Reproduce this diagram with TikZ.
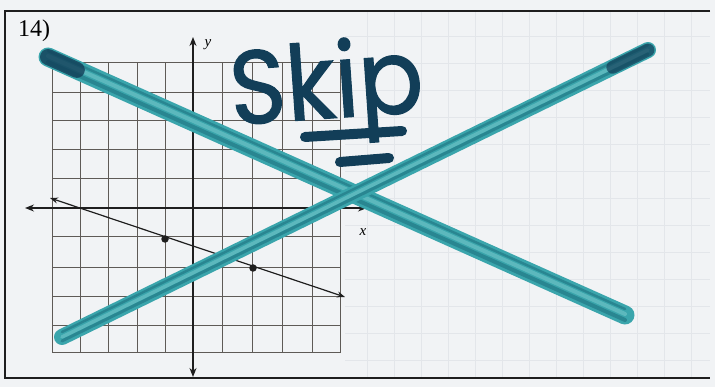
\documentclass[tikz,border=0pt]{standalone}
\usepackage{fontspec}
\setmainfont{Liberation Serif}
\newfontfamily\handfont{Poppins}[FakeBold=1.2]
\usetikzlibrary{arrows.meta,calc}
\definecolor{paper}{HTML}{F1F3F5}
\definecolor{faint}{HTML}{E3E6EA}
\definecolor{ink}{HTML}{1E1E1E}
\definecolor{gridc}{HTML}{5E5A56}
\definecolor{tealA}{HTML}{3AA5AC}
\definecolor{tealL}{HTML}{74C6C9}
\definecolor{tealD}{HTML}{1C6E7C}
\definecolor{navy}{HTML}{123E58}
\tikzset{
  frameline/.style={ink, line width=1.4pt},
  gridline/.style={gridc, line width=1.0pt},
  axisline/.style={ink, line width=1.3pt, {Stealth[length=9pt,width=7pt]}-{Stealth[length=9pt,width=7pt]}},
  graphline/.style={ink, line width=1.2pt, {Stealth[length=8pt,width=6pt]}-{Stealth[length=8pt,width=6pt]}},
  ptdot/.style={circle, fill=ink, inner sep=0pt, minimum size=7.5pt},
  marker/.style={tealA, line width=#1, line cap=round},
  markerdark/.style={tealD, line width=#1, line cap=round, opacity=0.55},
  markerlight/.style={tealL, line width=#1, line cap=round, opacity=0.6},
  pen/.style={navy, line width=10pt, line cap=round},
  lbl/.style={font=\itshape\fontsize{15}{15}\selectfont, inner sep=0pt}
}
\begin{document}
\begin{tikzpicture}[x=1pt, y=-1pt]
\useasboundingbox (0,0) rectangle (715,387);
\fill[paper] (0,0) rectangle (715,387);
% faint background paper grid
\foreach \gx in {367,394,...,710} \draw[faint, line width=0.6pt] (\gx,11) -- (\gx,378);
\foreach \gy in {36,63,...,378} \draw[faint, line width=0.6pt] (345,\gy) -- (710,\gy);
% frame
\coordinate (ftr) at (710,11);
\coordinate (ftl) at (5,11);
\coordinate (fbl) at (5,378);
\coordinate (fbr) at (710,378);
\draw[frameline] (ftr) -- (ftl) -- (fbl) -- (fbr);
% number
\node[anchor=base west, inner sep=0pt, font=\fontsize{24}{24}\selectfont] (num) at (18,37) {14)};
% grid
\foreach \gx in {52,80,108,137,165,193,222,252,282,312,340} \draw[gridline] (\gx,63) -- (\gx,353);
\foreach \gy in {63,93,121,150,179,208,237,268,297,326,353} \draw[gridline] (52,\gy) -- (340,\gy);
% axes
\coordinate (ytop) at (193,37);
\coordinate (ybot) at (193,377);
\coordinate (xl) at (25,208);
\coordinate (xr) at (367,208);
\draw[axisline] (ybot) -- (ytop);
\draw[axisline] (xl) -- (xr);
\node[lbl] (ylab) at (208,45) {y};
\node[lbl] (xlab) at (363,232) {x};
% line
\coordinate (la) at (50,198);
\coordinate (lb) at (345,297);
\draw[graphline] (la) -- (lb);
\node[ptdot] (p1) at (165,239) {};
\node[ptdot] (p2) at (253,268) {};
% teal cross-out strokes
\coordinate (s1a) at (48,57);
\coordinate (s1b) at (625,315);
\coordinate (s2a) at (62,337);
\coordinate (s2b) at (648,50);
\draw[marker=19pt] (s1a) -- (s1b);
\draw[markerlight=4pt] ($(s1a)+(0,-1)$) -- ($(s1b)+(0,-1)$);
\draw[markerdark=4pt] ($(s1a)+(0,5)$) -- ($(s1b)+(0,5)$);
\draw[markerdark=2.5pt] ($(s1a)+(0,-6)$) -- ($(s1b)+(0,-6)$);
\draw[marker=16pt] (s2a) -- (s2b);
\draw[markerlight=3.5pt] ($(s2a)+(0,0)$) -- ($(s2b)+(0,0)$);
\draw[markerdark=3pt] ($(s2a)+(0,4)$) -- ($(s2b)+(0,4)$);
\draw[markerdark=2.5pt] ($(s2a)+(0,-5)$) -- ($(s2b)+(0,-5)$);
\draw[navy, line width=16pt, line cap=round, opacity=0.8] (s1a) -- ($(s1a)!0.05!(s1b)$);
\draw[navy, line width=13pt, line cap=round, opacity=0.7] (s2b) -- ($(s2b)!0.06!(s2a)$);
% handwritten word
\node[anchor=base west, inner sep=0pt, text=navy, rotate=4, xscale=0.92,
      font=\handfont\fontsize{104}{104}\selectfont] (skip) at (232,125) {Skip};
\coordinate (u1a) at (305,137);
\coordinate (u1b) at (402,131);
\coordinate (u2a) at (340,162);
\coordinate (u2b) at (389,158);
\draw[pen] (u1a) -- (u1b);
\draw[pen] (u2a) -- (u2b);
\end{tikzpicture}
\end{document}
